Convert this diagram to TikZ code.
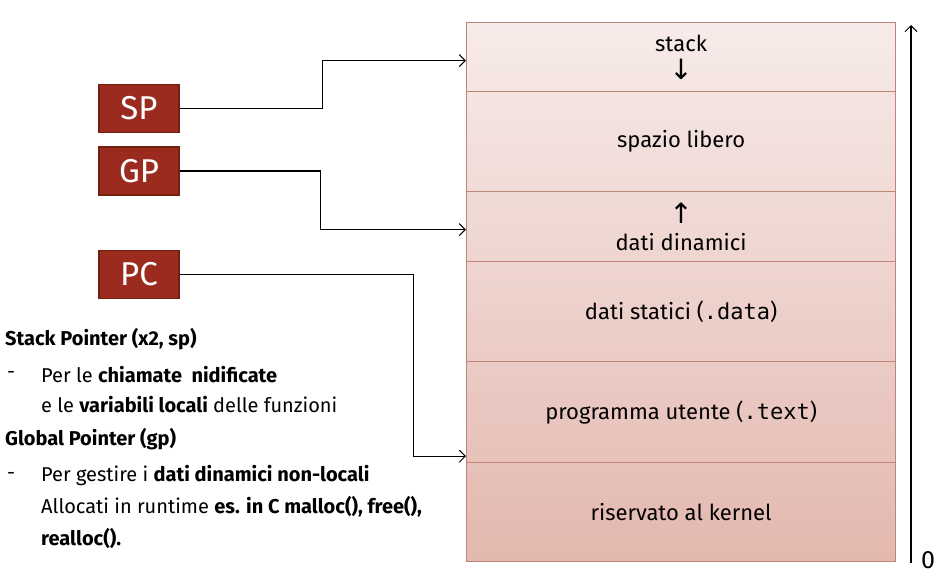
\documentclass[tikz,border=0pt]{standalone}
\usepackage{fontspec}
\setmainfont{Fira Sans}
\setmonofont{DejaVu Sans Mono}
\newfontfamily\symbfont{DejaVu Sans}
\usetikzlibrary{positioning,arrows.meta}
\definecolor{regred}{HTML}{9A2B1E}
\definecolor{regborder}{HTML}{74200F}
\definecolor{memtop}{HTML}{F7EBE9}
\definecolor{membot}{HTML}{E3B8AF}
\definecolor{memline}{HTML}{BF8579}
\tikzset{
  reg/.style={draw=regborder,line width=1.2pt,fill=regred,text=white,
    minimum width=80pt,minimum height=48pt,font=\fontsize{33}{35}\selectfont},
  cell/.style={draw=memline,line width=1.2pt,minimum width=429pt,anchor=north west,
    inner sep=0pt,align=center,font=\fontsize{22}{30}\selectfont},
  wire/.style={-{Straight Barb[length=6pt,width=12pt,line width=1pt]},line width=1.1pt},
  note/.style={anchor=west,inner sep=0pt,font=\fontsize{20}{22}\selectfont}
}
\begin{document}
\begin{tikzpicture}[x=1pt,y=-1pt]
\useasboundingbox (0,0) rectangle (940,585);
% memory layout
\node[cell,minimum height=69pt,top color=memtop,bottom color=membot!13!memtop] (stk) at (466,22) {stack\\[-2pt]{\symbfont\fontsize{28}{28}\selectfont ↓}};
\node[cell,minimum height=100pt,top color=membot!13!memtop,bottom color=membot!31!memtop] (free) at (466,91) {spazio libero};
\node[cell,minimum height=70pt,top color=membot!31!memtop,bottom color=membot!44!memtop] (dyn) at (466,191) {{\symbfont\fontsize{28}{28}\selectfont ↑}\\[-3pt]dati dinamici};
\node[cell,minimum height=100pt,top color=membot!44!memtop,bottom color=membot!63!memtop] (stat) at (466,261) {dati statici (\texttt{.data})};
\node[cell,minimum height=101pt,top color=membot!63!memtop,bottom color=membot!82!memtop] (prog) at (466,361) {programma utente (\texttt{.text})};
\node[cell,minimum height=99pt,top color=membot!82!memtop,bottom color=membot] (kern) at (466,462) {riservato al kernel};
% address axis
\coordinate (axbot) at (911,563);
\coordinate (axtop) at (911,25);
\draw[wire] (axbot) -- (axtop);
\node[font=\fontsize{25}{26}\selectfont] (zero) at (928,560) {0};
% registers
\node[reg] (sp) at (139,108.5) {SP};
\node[reg] (gp) at (139,171) {GP};
\node[reg] (pc) at (139,274.5) {PC};
\draw[wire] (sp.east) -- ++(143,0) |- ([yshift=-3.5pt]stk.west);
\draw[wire] (gp.east) -- ++(141,0) |- ([yshift=-3pt]dyn.west);
\draw[wire] (pc.east) -- ++(234,0) |- ([yshift=7pt]prog.south west);
% notes
\node[note] (n1) at (5,339) {\textbf{Stack Pointer (x2, sp)}};
\node[note] (d1) at (7,375) {-};
\node[note] (n2) at (41,375) {Per le \textbf{chiamate\ \ nidificate}};
\node[note] (n3) at (41,405) {e le \textbf{variabili locali} delle funzioni};
\node[note] (n4) at (5,439) {\textbf{Global Pointer (gp)}};
\node[note] (d2) at (7,476) {-};
\node[note] (n5) at (41,476) {Per gestire i \textbf{dati dinamici non-locali}};
\node[note] (n6) at (41,507) {Allocati in runtime \textbf{es. in C malloc(), free(),}};
\node[note] (n7) at (41,538) {\textbf{realloc().}};
\end{tikzpicture}
\end{document}
